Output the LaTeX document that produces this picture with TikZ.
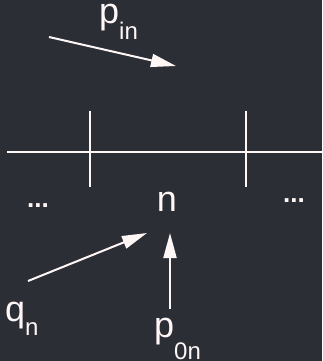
\documentclass[tikz,border=0pt]{standalone}
\usepackage{fontspec}
\setmainfont{Liberation Sans}
\usetikzlibrary{
    arrows.meta,
    positioning
}
\definecolor{bgDark}{RGB}{44,46,54}
\definecolor{fgWhite}{RGB}{255,246,246}
\newcommand{\lowsub}[2]{\raisebox{-#1}{\fontsize{24}{24}\selectfont #2}}
\tikzset{
  lbl/.style  = {inner sep=0pt, anchor=base west, text=fgWhite,
                 text height=20pt, text depth=8pt,
                 font=\fontsize{36}{40}\selectfont},
  dots/.style = {inner sep=0pt, anchor=base, text=fgWhite,
                 font=\fontsize{26}{28}\selectfont\bfseries},
  arr/.style  = {-{Triangle[length=25pt,width=13pt]}, fgWhite, line width=2pt},
  pipe/.style = {fgWhite, line width=2.2pt}
}

\begin{document}
\begin{tikzpicture}[x=1pt,y=-1pt]
\useasboundingbox (0,0) rectangle (322,361);
\fill[bgDark] (0,0) rectangle (322,361);
% pipe with two cell faces
\coordinate (pipeL) at (7,152);
\coordinate (pipeR) at (322,152);
\draw[pipe] (pipeL) -- (pipeR);
\coordinate (faceAt) at (90,111);
\coordinate (faceAb) at (90,187);
\coordinate (faceBt) at (246,111);
\coordinate (faceBb) at (246,187);
\draw[pipe] (faceAt) -- (faceAb);
\draw[pipe] (faceBt) -- (faceBb);
\node[dots] (dotsL) at (38,207) {...};
\node[dots] (dotsR) at (294,202) {...};
\node[lbl, anchor=base] (cell) at (167,211) {n};
% inflow from above
\coordinate (pinS) at (49,37);
\coordinate (pinE) at (176,66);
\draw[arr] (pinS) -- (pinE);
\node[lbl] (pin) at (99,24) {p\lowsub{16pt}{in}};
% source terms
\coordinate (qS) at (28,281);
\coordinate (qE) at (147,233);
\draw[arr] (qS) -- (qE);
\node[lbl] (qn) at (5,321) {q\lowsub{14pt}{n}};
\coordinate (p0S) at (170,309);
\coordinate (p0E) at (170,233);
\draw[arr] (p0S) -- (p0E);
\node[lbl] (p0n) at (154,337) {p\lowsub{22pt}{0n}};
\end{tikzpicture}
\end{document}
